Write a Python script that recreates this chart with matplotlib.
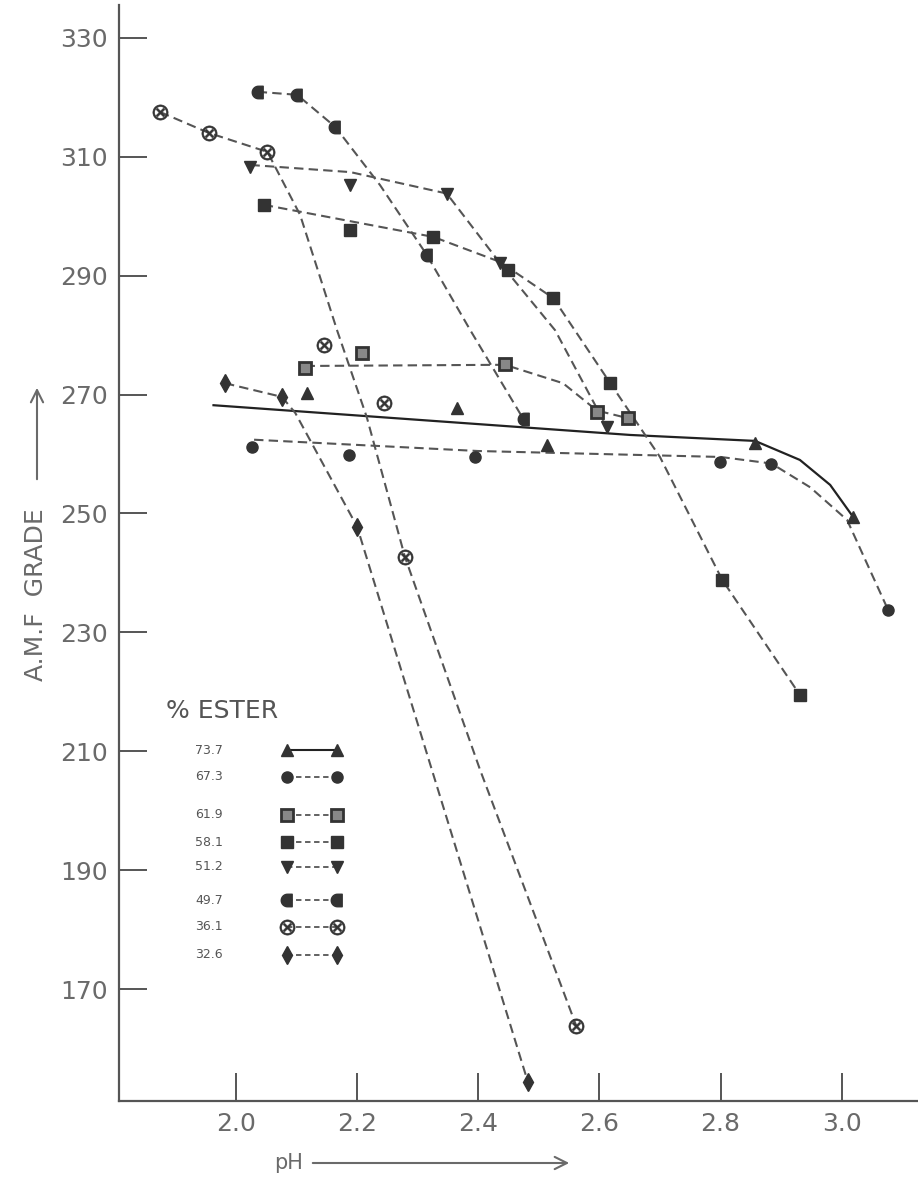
import numpy as np
import matplotlib
matplotlib.use('Agg')
import matplotlib.pyplot as plt
from matplotlib.lines import Line2D

# % ester of each pectin sample (legend order)
ester = ['73.7', '67.3', '61.9', '58.1', '51.2', '49.7', '36.1', '32.6']

# measured points: pH and A.M.F. grade
ph_737 = [2.117, 2.365, 2.513, 2.857, 3.019]
amf_737 = [270.2, 267.7, 261.5, 261.8, 249.4]
ph_673 = [2.026, 2.186, 2.395, 2.799, 2.884, 3.077]
amf_673 = [261.2, 259.8, 259.5, 258.7, 258.4, 233.7]
ph_619 = [2.114, 2.208, 2.444, 2.596, 2.648]
amf_619 = [274.4, 276.9, 275.2, 267.1, 266.0]
ph_581 = [2.046, 2.189, 2.326, 2.449, 2.524, 2.618, 2.803, 2.931]
amf_581 = [301.9, 297.7, 296.5, 290.9, 286.2, 271.9, 238.8, 219.5]
ph_512 = [2.024, 2.189, 2.348, 2.436, 2.612]
amf_512 = [308.3, 305.2, 303.8, 292.1, 264.6]
ph_497 = [2.036, 2.101, 2.164, 2.315, 2.475]
amf_497 = [320.9, 320.4, 315.0, 293.5, 265.8]
ph_361 = [1.875, 1.955, 2.052, 2.145, 2.244, 2.279, 2.562]
amf_361 = [317.5, 313.9, 310.8, 278.3, 268.5, 242.7, 163.8]
ph_326 = [1.982, 2.076, 2.200, 2.482]
amf_326 = [271.9, 269.6, 247.8, 154.4]

# hand-drawn curves, read along the lines of the figure
cph_737 = [1.963, 2.651, 2.857, 2.931, 2.981, 3.019]
camf_737 = [268.2, 263.2, 262.2, 259.0, 254.8, 249.4]
cph_673 = [2.030, 2.400, 2.800, 2.884, 2.948, 3.009, 3.077]
camf_673 = [262.4, 260.5, 259.5, 258.4, 254.4, 248.9, 233.7]
cph_619 = [2.115, 2.444, 2.540, 2.596, 2.648]
camf_619 = [274.8, 275.0, 271.9, 267.3, 266.0]
cph_581 = [2.046, 2.326, 2.436, 2.524, 2.618, 2.700, 2.803, 2.931]
camf_581 = [301.9, 296.5, 292.3, 286.2, 271.9, 259.5, 238.8, 219.5]
cph_512 = [2.024, 2.189, 2.348, 2.436, 2.527, 2.612]
camf_512 = [308.6, 307.4, 303.8, 292.1, 280.8, 264.6]
cph_497 = [2.036, 2.101, 2.164, 2.238, 2.315, 2.387, 2.475]
camf_497 = [320.9, 320.4, 315.0, 305.2, 293.5, 280.8, 265.8]
cph_361 = [1.875, 1.955, 2.052, 2.106, 2.167, 2.216, 2.279, 2.403, 2.562]
camf_361 = [317.5, 314.0, 310.8, 300.2, 280.8, 266.2, 242.7, 206.9, 163.8]
cph_326 = [1.982, 2.076, 2.098, 2.200, 2.482]
camf_326 = [271.9, 269.6, 266.9, 247.8, 154.4]

x_ticks = [2.0, 2.2, 2.4, 2.6, 2.8, 3.0]
y_ticks = [170, 190, 210, 230, 250, 270, 290, 310, 330]

ink = '#333333'
txt = '#6a6a6a'

# half-disc marker for the 49.7 sample
th = np.linspace(np.pi / 2, 3 * np.pi / 2, 24)
half_disc = list(zip(np.cos(th), np.sin(th))) + [(0.75, -1), (0.75, 1), (0, 1)]

styles = {
    '73.7': dict(marker='^', ms=8, mfc=ink, mec=ink, ls='-'),
    '67.3': dict(marker='o', ms=8, mfc=ink, mec=ink, ls='--'),
    '61.9': dict(marker='s', ms=8, mfc='#888888', mec=ink, mew=2.0, ls='--'),
    '58.1': dict(marker='s', ms=8, mfc=ink, mec=ink, ls='--'),
    '51.2': dict(marker='v', ms=9, mfc=ink, mec=ink, ls='--'),
    '49.7': dict(marker=half_disc, ms=9, mfc=ink, mec=ink, ls='--'),
    '36.1': dict(marker=r'$\otimes$', ms=11, mfc=ink, mec=ink, mew=0.4, ls='--'),
    '32.6': dict(marker='d', ms=9, mfc=ink, mec=ink, ls='--'),
}

points = {
    '73.7': (ph_737, amf_737, cph_737, camf_737),
    '67.3': (ph_673, amf_673, cph_673, camf_673),
    '61.9': (ph_619, amf_619, cph_619, camf_619),
    '58.1': (ph_581, amf_581, cph_581, camf_581),
    '51.2': (ph_512, amf_512, cph_512, camf_512),
    '49.7': (ph_497, amf_497, cph_497, camf_497),
    '36.1': (ph_361, amf_361, cph_361, camf_361),
    '32.6': (ph_326, amf_326, cph_326, camf_326),
}

W, H = 918, 1182
fig = plt.figure(figsize=(W / 100, H / 100), dpi=100)
ax = fig.add_axes([119 / W, 1 - 1101 / H, 1 - 119 / W, (1101 - 5) / H])


def fpx(x, y):
    return (x / W, 1 - y / H)


for name in ester:
    ph, amf, cph, camf = points[name]
    st = dict(styles[name])
    ls = st.pop('ls')
    if ls == '-':
        ax.plot(cph, camf, color='#222222', lw=1.6, ls='-', zorder=2)
    else:
        ax.plot(cph, camf, color='#555555', lw=1.5, ls=(0, (4.5, 2.5)), zorder=2)
    ax.plot(ph, amf, ls='none', zorder=3, **st)

ax.set_xlim(1.807, 3.126)
ax.set_ylim(151.2, 335.5)
ax.set_xticks(x_ticks)
ax.set_xticklabels(['%.1f' % v for v in x_ticks])
ax.set_yticks(y_ticks)
for s in ['top', 'right']:
    ax.spines[s].set_visible(False)
for s in ['left', 'bottom']:
    ax.spines[s].set_color('#555555')
    ax.spines[s].set_linewidth(1.6)
ax.tick_params(direction='in', length=20, width=1.4, color='#555555',
               labelsize=18, labelcolor=txt)
ax.tick_params(axis='y', pad=8)
ax.tick_params(axis='x', pad=8)

# axis titles with arrows
fig.text(*fpx(36, 595), 'A.M.F  GRADE', rotation=90, ha='center', va='center',
         fontsize=18, color=txt)
fig.add_artist(matplotlib.patches.FancyArrowPatch(
    fpx(37, 482), fpx(37, 385), transform=fig.transFigure,
    arrowstyle='->', mutation_scale=22, color=txt, lw=1.5))
fig.text(*fpx(289, 1163), 'pH', ha='center', va='center', fontsize=15, color=txt)
fig.add_artist(matplotlib.patches.FancyArrowPatch(
    fpx(310, 1163), fpx(572, 1163), transform=fig.transFigure,
    arrowstyle='->', mutation_scale=22, color=txt, lw=1.5))

# hand-made key
fig.text(*fpx(166, 711), '% ESTER', ha='left', va='center', fontsize=18, color='#555555')
row_y = [750, 777, 815, 842, 867, 900, 927, 955]
for name, yy in zip(ester, row_y):
    fig.text(*fpx(195, yy), name, ha='left', va='center', fontsize=9, color='#555555')
    st = dict(styles[name])
    ls = st.pop('ls')
    x0, y0 = fpx(287, yy)
    x1, _ = fpx(337, yy)
    if ls == '-':
        ln = Line2D([x0, x1], [y0, y0], color='#222222', lw=1.5, transform=fig.transFigure)
    else:
        ln = Line2D([x0, x1], [y0, y0], color='#555555', lw=1.3, ls=(0, (3, 2)),
                    transform=fig.transFigure)
    fig.add_artist(ln)
    fig.add_artist(Line2D([x0, x1], [y0, y0], ls='none', transform=fig.transFigure, **st))

fig.savefig('out.png', dpi=100)
